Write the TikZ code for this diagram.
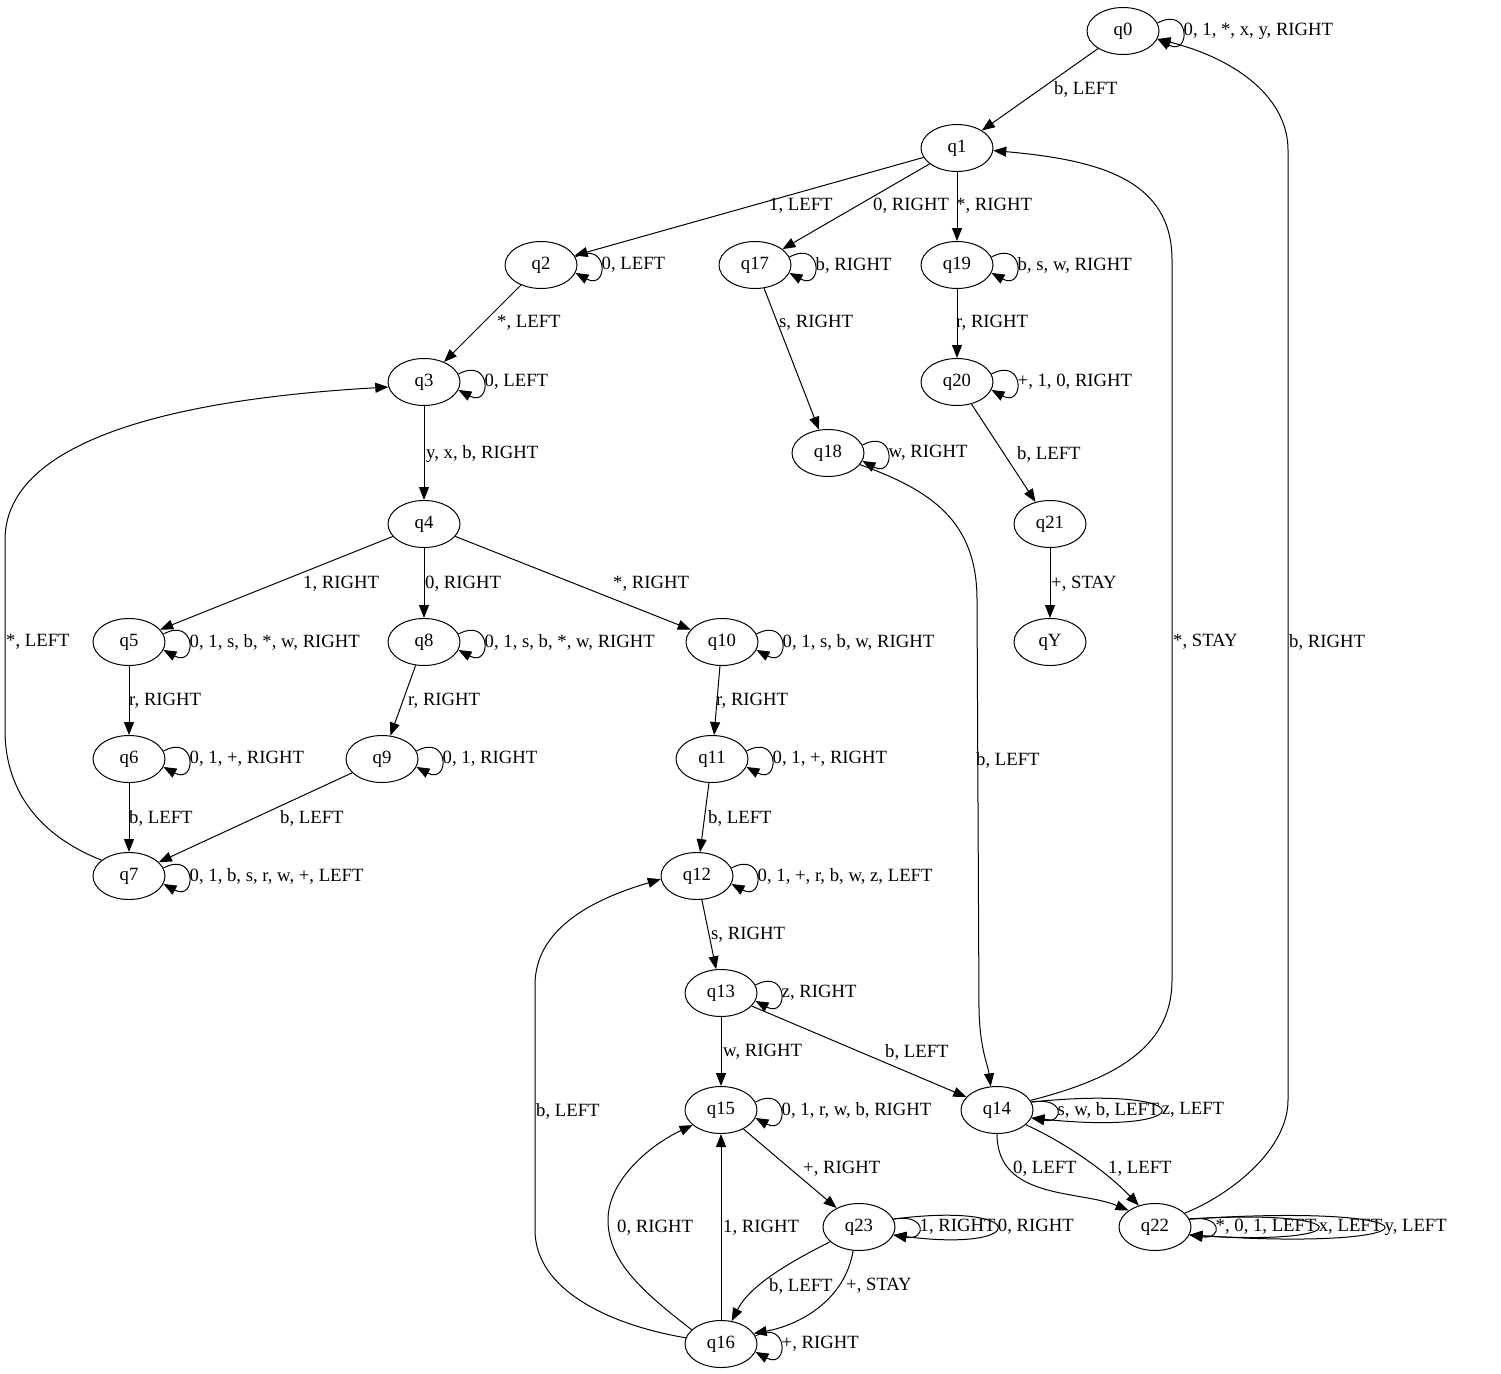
\documentclass[tikz,border=0pt]{standalone}
\usepackage{fontspec}
\setmainfont{Liberation Serif}
\usetikzlibrary{shapes.geometric,arrows.meta,calc}
\tikzset{
 st/.style={ellipse, draw, line width=1pt, minimum width=72pt, minimum height=47pt, inner sep=0pt},
 edge/.style={line width=1pt, -{Triangle[length=13pt,width=10pt]}},
 lbl/.style={inner sep=1pt},
}
\newcommand\myloop[5]{%
  \draw[edge] (#1.13) .. controls ($(#1.13)!1.3333!(#2|-#1.13)+(0pt,#3)$) and ($(#1.-13)!1.3333!(#2|-#1.-13)-(0pt,#3)$) .. (#1.-13);
  \node[lbl,anchor=west] (#4) at (#2|-#1.center) {#5};}
\newcommand\firstloop[4]{%
  \coordinate (#1r) at ([xshift=23pt]#1.east);
  \myloop{#1}{#1r}{#2}{#3}{#4}}
\begin{document}
\begin{tikzpicture}[x=1pt,y=-1pt,font=\fontsize{18.7pt}{22pt}\selectfont]
\useasboundingbox (0,0) rectangle (1501,1373);
% states
\node[st] (q0) at (1123,31) {q0};
\node[st] (q1) at (957,148) {q1};
\node[st] (q2) at (541,265) {q2};
\node[st] (q17) at (755,265) {q17};
\node[st] (q19) at (957,265) {q19};
\node[st] (q3) at (424,382) {q3};
\node[st] (q20) at (957,382) {q20};
\node[st] (q18) at (828,453) {q18};
\node[st] (q4) at (424,524) {q4};
\node[st] (q21) at (1050,524) {q21};
\node[st] (q5) at (129,642) {q5};
\node[st] (q8) at (424,642) {q8};
\node[st] (q10) at (722,642) {q10};
\node[st] (qY) at (1050,642) {qY};
\node[st] (q6) at (129,759) {q6};
\node[st] (q9) at (382,759) {q9};
\node[st] (q11) at (712,759) {q11};
\node[st] (q7) at (129,876) {q7};
\node[st] (q12) at (697,876) {q12};
\node[st] (q13) at (721,993) {q13};
\node[st] (q15) at (721,1110) {q15};
\node[st] (q14) at (997,1110) {q14};
\node[st] (q23) at (859,1227) {q23};
\node[st] (q22) at (1155,1227) {q22};
\node[st] (q16) at (721,1344) {q16};
% straight edges
\draw[edge] (q0) -- (q1);
\draw[edge] (q1) -- (q2);
\draw[edge] (q1) -- (q17);
\draw[edge] (q1) -- (q19);
\draw[edge] (q2) -- (q3);
\draw[edge] (q17) -- (q18);
\draw[edge] (q19) -- (q20);
\draw[edge] (q3) -- (q4);
\draw[edge] (q20) -- (q21);
\draw[edge] (q21) -- (qY);
\draw[edge] (q4) -- (q5);
\draw[edge] (q4) -- (q8);
\draw[edge] (q4) -- (q10);
\draw[edge] (q5) -- (q6);
\draw[edge] (q8) -- (q9);
\draw[edge] (q10) -- (q11);
\draw[edge] (q6) -- (q7);
\draw[edge] (q9) -- (q7);
\draw[edge] (q11) -- (q12);
\draw[edge] (q12) -- (q13);
\draw[edge] (q13) -- (q15);
\draw[edge] (q13) -- (q14);
\draw[edge] (q15) -- (q23);
\draw[edge] (q16) -- (q15);
% curved edges
\draw[edge] (q18.-20) .. controls (930,490) and (977,520) .. (977,600) -- (979,1010) .. controls (980,1050) and (988,1065) .. (q14.105);
\draw[edge] (q14.16) .. controls (1110,1080) and (1172,1050) .. (1172,980) -- (1172,260) .. controls (1172,180) and (1100,160) .. (q1.-4);
\draw[edge] (q22.25) .. controls (1230,1195) and (1288,1150) .. (1288,1100) -- (1288,150) .. controls (1288,100) and (1240,60) .. (q0.-13);
\draw[edge] (q7.150) .. controls (50,840) and (5,800) .. (5,730) -- (5,540) .. controls (5,420) and (250,395) .. (q3.188);
\draw[edge] (q14.-90) .. controls (997,1200) and (1080,1190) .. (q22.148);
\draw[edge] (q14.-27) .. controls (1070,1145) and (1110,1175) .. (q22.127);
\draw[edge] (q23.207) .. controls (790,1262) and (750,1285) .. (q16.65);
\draw[edge] (q23.256) .. controls (845,1300) and (800,1325) .. (q16.18);
\draw[edge] (q16.154) .. controls (640,1290) and (608,1260) .. (608,1220) .. controls (608,1180) and (650,1145) .. (q15.208);
\draw[edge] (q16.170) .. controls (610,1325) and (535,1290) .. (535,1230) -- (535,985) .. controls (535,930) and (590,900) .. (q12.185);
% self loops
\firstloop{q0}{18pt}{l0}{0, 1, *, x, y, RIGHT}
\firstloop{q2}{18pt}{l2}{0, LEFT}
\firstloop{q17}{18pt}{l17}{b, RIGHT}
\firstloop{q19}{18pt}{l19}{b, s, w, RIGHT}
\firstloop{q3}{18pt}{l3}{0, LEFT}
\firstloop{q20}{18pt}{l20}{+, 1, 0, RIGHT}
\firstloop{q18}{18pt}{l18}{w, RIGHT}
\firstloop{q5}{18pt}{l5}{0, 1, s, b, *, w, RIGHT}
\firstloop{q8}{18pt}{l8}{0, 1, s, b, *, w, RIGHT}
\firstloop{q10}{18pt}{l10}{0, 1, s, b, w, RIGHT}
\firstloop{q6}{18pt}{l6}{0, 1, +, RIGHT}
\firstloop{q9}{18pt}{l9}{0, 1, RIGHT}
\firstloop{q11}{18pt}{l11}{0, 1, +, RIGHT}
\firstloop{q7}{18pt}{l7}{0, 1, b, s, r, w, +, LEFT}
\firstloop{q12}{18pt}{l12}{0, 1, +, r, b, w, z, LEFT}
\firstloop{q13}{18pt}{l13}{z, RIGHT}
\firstloop{q15}{18pt}{l15}{0, 1, r, w, b, RIGHT}
\firstloop{q16}{18pt}{l16}{+, RIGHT}
\firstloop{q14}{6pt}{l14a}{s, w, b, LEFT}
\myloop{q14}{l14a.east}{18pt}{l14b}{z, LEFT}
\firstloop{q22}{5pt}{l22a}{*, 0, 1, LEFT}
\myloop{q22}{l22a.east}{11pt}{l22b}{x, LEFT}
\myloop{q22}{l22b.east}{17pt}{l22c}{y, LEFT}
\firstloop{q23}{6pt}{l23a}{1, RIGHT}
\myloop{q23}{l23a.east}{18pt}{l23b}{0, RIGHT}
% edge labels
\node[lbl,anchor=west] (e1) at (1053,89) {b, LEFT};
\node[lbl,anchor=west] (e2) at (768,206) {1, LEFT};
\node[lbl,anchor=west] (e3) at (872,206) {0, RIGHT};
\node[lbl,anchor=west] (e4) at (955,206) {*, RIGHT};
\node[lbl,anchor=west] (e5) at (496,323) {*, LEFT};
\node[lbl,anchor=west] (e6) at (778,323) {s, RIGHT};
\node[lbl,anchor=west] (e7) at (955,323) {r, RIGHT};
\node[lbl,anchor=west] (e8) at (425,454) {y, x, b, RIGHT};
\node[lbl,anchor=west] (e9) at (1016,454) {b, LEFT};
\node[lbl,anchor=west] (e10) at (975,760) {b, LEFT};
\node[lbl,anchor=west] (e11) at (1050,584) {+, STAY};
\node[lbl,anchor=west] (e12) at (302,584) {1, RIGHT};
\node[lbl,anchor=west] (e13) at (424,584) {0, RIGHT};
\node[lbl,anchor=west] (e14) at (612,584) {*, RIGHT};
\node[lbl,anchor=west] (e15) at (128,701) {r, RIGHT};
\node[lbl,anchor=west] (e16) at (407,701) {r, RIGHT};
\node[lbl,anchor=west] (e17) at (715,701) {r, RIGHT};
\node[lbl,anchor=west] (e18) at (128,818) {b, LEFT};
\node[lbl,anchor=west] (e19) at (279,818) {b, LEFT};
\node[lbl,anchor=west] (e20) at (707,818) {b, LEFT};
\node[lbl,anchor=west] (e21) at (5,642) {*, LEFT};
\node[lbl,anchor=west] (e22) at (710,935) {s, RIGHT};
\node[lbl,anchor=west] (e23) at (722,1052) {w, RIGHT};
\node[lbl,anchor=west] (e24) at (884,1052) {b, LEFT};
\node[lbl,anchor=west] (e25) at (802,1169) {+, RIGHT};
\node[lbl,anchor=west] (e26) at (1172,642) {*, STAY};
\node[lbl,anchor=west] (e27) at (1012,1169) {0, LEFT};
\node[lbl,anchor=west] (e28) at (1107,1169) {1, LEFT};
\node[lbl,anchor=west] (e29) at (1288,642) {b, RIGHT};
\node[lbl,anchor=west] (e30) at (768,1286) {b, LEFT};
\node[lbl,anchor=west] (e31) at (845,1286) {+, STAY};
\node[lbl,anchor=west] (e32) at (722,1228) {1, RIGHT};
\node[lbl,anchor=west] (e33) at (616,1228) {0, RIGHT};
\node[lbl,anchor=west] (e34) at (535,1111) {b, LEFT};
\end{tikzpicture}
\end{document}
